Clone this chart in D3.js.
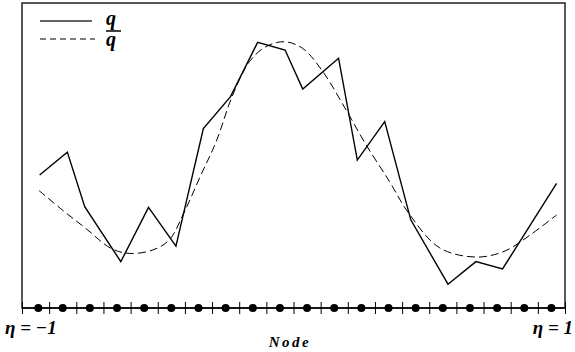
<!DOCTYPE html>
<html>
<head>
<meta charset="utf-8">
<script src="https://cdn.jsdelivr.net/npm/d3@7"></script>
<style>
  body { margin: 0; background: #fff; }
  svg { display: block; }
  text { font-family: "Liberation Serif"; font-weight: 700; font-style: italic; }
</style>
</head>
<body>
<div id="chart"></div>
<script>
// raw signal q (solid) - eta position and value
var qEta = [-0.935, -0.833, -0.769, -0.636, -0.534, -0.433, -0.332, -0.232, -0.132, -0.031,
            0.034, 0.166, 0.235, 0.336, 0.432, 0.569, 0.672, 0.770, 0.969];
var qVal = [0.436, 0.511, 0.332, 0.152, 0.330, 0.203, 0.588, 0.693, 0.871, 0.846,
            0.718, 0.819, 0.485, 0.611, 0.289, 0.078, 0.152, 0.128, 0.409];

// filtered signal q-bar (dashed)
var qbarEta = [-0.937, -0.851, -0.765, -0.673, -0.605, -0.519, -0.458, -0.402, -0.341, -0.285,
               -0.224, -0.162, -0.101, -0.033, 0.034, 0.108, 0.194, 0.268, 0.354, 0.424,
               0.539, 0.674, 0.779, 0.871, 0.969];
var qbarVal = [0.385, 0.321, 0.261, 0.196, 0.179, 0.190, 0.223, 0.315, 0.436, 0.545,
               0.698, 0.808, 0.857, 0.873, 0.851, 0.775, 0.649, 0.534, 0.414, 0.311,
               0.197, 0.167, 0.187, 0.239, 0.305];

// element edges (ticks) and nodes (dots) along the eta axis
var edgeEta = [-1, -0.9, -0.8, -0.7, -0.6, -0.5, -0.4, -0.3, -0.2, -0.1, 0,
               0.1, 0.2, 0.3, 0.4, 0.5, 0.6, 0.7, 0.8, 0.9, 1];
var nodeEta = [-0.94, -0.85, -0.75, -0.65, -0.55, -0.45, -0.35, -0.25, -0.15, -0.05,
               0.05, 0.15, 0.25, 0.35, 0.45, 0.55, 0.65, 0.75, 0.85, 0.95];

var width = 575, height = 352;
var plotLeft = 22, plotRight = 565, plotTop = 3, axisY = 308;

var svg = d3.select("#chart").append("svg")
    .attr("width", width)
    .attr("height", height);

var x = d3.scaleLinear().domain([-1, 1]).range([plotLeft, plotRight]);
var y = d3.scaleLinear().domain([0, 1]).range([axisY, plotTop]);

function label(txt, px, py, size) {
    return svg.append("text")
        .attr("x", px).attr("y", py)
        .style("font-size", size + "px")
        .attr("fill", "#000")
        .text(txt);
}

// frame
svg.append("rect")
    .attr("x", plotLeft).attr("y", plotTop)
    .attr("width", plotRight - plotLeft).attr("height", axisY - plotTop)
    .attr("fill", "none").attr("stroke", "#222").attr("stroke-width", 1.5);

// node axis ticks
var xAxis = d3.axisBottom(x).tickValues(edgeEta).tickSize(12).tickFormat("");
var gAxis = svg.append("g")
    .attr("transform", "translate(0," + (axisY - 6) + ")")
    .call(xAxis);
gAxis.select(".domain").remove();
gAxis.selectAll("line").attr("stroke", "#000").attr("stroke-width", 1);

svg.append("line")
    .attr("x1", plotLeft).attr("x2", plotRight)
    .attr("y1", axisY).attr("y2", axisY)
    .attr("stroke", "#000").attr("stroke-width", 1.5);

svg.selectAll(".node")
    .data(nodeEta)
    .enter().append("circle")
    .attr("class", "node")
    .attr("cx", function (d) { return x(d); })
    .attr("cy", axisY)
    .attr("r", 4)
    .attr("fill", "#000");

// curves
var qLine = d3.line()
    .x(function (d, i) { return x(qEta[i]); })
    .y(function (d) { return y(d); });

svg.append("path")
    .datum(qVal)
    .attr("d", qLine)
    .attr("fill", "none")
    .attr("stroke", "#000")
    .attr("stroke-width", 1.4);

var qbarLine = d3.line()
    .curve(d3.curveCatmullRom)
    .x(function (d, i) { return x(qbarEta[i]); })
    .y(function (d) { return y(d); });

svg.append("path")
    .datum(qbarVal)
    .attr("d", qbarLine)
    .attr("fill", "none")
    .attr("stroke", "#000")
    .attr("stroke-width", 1)
    .attr("stroke-dasharray", "8,4");

// legend
svg.append("line")
    .attr("x1", 40).attr("x2", 92).attr("y1", 21).attr("y2", 21)
    .attr("stroke", "#333").attr("stroke-width", 1.4);
label("q", 106, 25, 20);

svg.append("line")
    .attr("x1", 40).attr("x2", 95).attr("y1", 39).attr("y2", 39)
    .attr("stroke", "#000").attr("stroke-width", 1)
    .attr("stroke-dasharray", "6,4");
svg.append("line")
    .attr("x1", 106).attr("x2", 121).attr("y1", 31).attr("y2", 31)
    .attr("stroke", "#000").attr("stroke-width", 1.5);
label("q", 106, 46, 20);

// axis labels
label("\u03b7 = \u22121", 5, 334, 19);
label("\u03b7 = 1", 573, 334, 19).attr("text-anchor", "end");
label("Node", 290, 347, 15)
    .attr("text-anchor", "middle")
    .attr("letter-spacing", 2.5);
</script>
</body>
</html>
